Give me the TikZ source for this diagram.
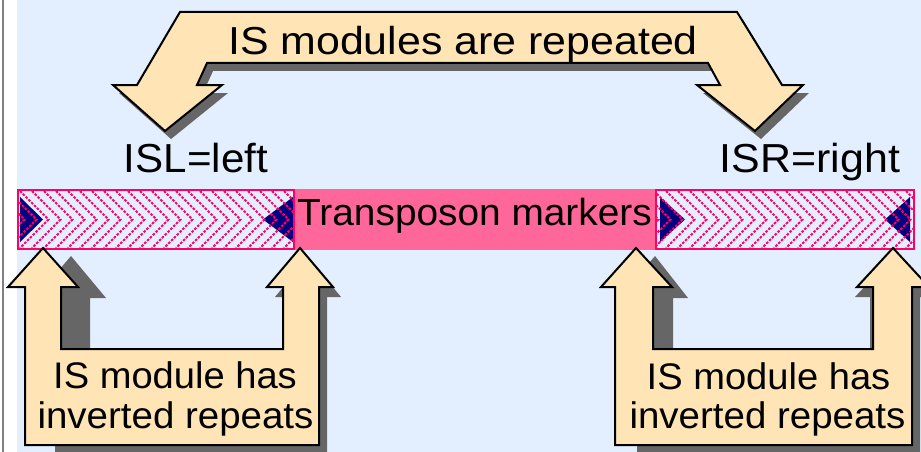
\documentclass[tikz,border=0pt]{standalone}
\usepackage{fontspec}
\setmainfont{Liberation Sans}
\usepackage{graphicx}
\definecolor{bgblue}{RGB}{227,239,255}
\definecolor{beige}{RGB}{255,228,181}
\definecolor{midpink}{RGB}{255,102,153}
\definecolor{hotpink}{RGB}{255,0,102}
\definecolor{navyblue}{RGB}{0,0,128}
\definecolor{shadowgray}{RGB}{102,102,102}
\definecolor{framegray}{RGB}{128,128,128}
\newcommand\myfs[1]{\fontsize{#1}{#1}\selectfont}
\newcommand\toparrowpath[1]{\path[#1] (180,12) -- (737,12) -- (782,85) -- (803,85) -- (755,131) -- (697,85) -- (720,85) -- (708,63) -- (207,63) -- (197,85) -- (222,85) -- (165,131) -- (113,85) -- (137,85) -- cycle;}
\newcommand\leftUpath[1]{\path[#1] (43,248) -- (78,287) -- (61,287) -- (61,349) -- (283,349) -- (283,287) -- (267,287) -- (300,248) -- (333,287) -- (319,287) -- (319,445) -- (25,445) -- (25,287) -- (8,287) -- cycle;}
\newcommand\rightUpath[1]{\path[#1] (636,248) -- (672,287) -- (653,287) -- (653,349) -- (873,349) -- (873,287) -- (857,287) -- (893,248) -- (929,287) -- (912,287) -- (912,445) -- (615,445) -- (615,287) -- (601,287) -- cycle;}
\tikzset{
  outline/.style={fill=beige, draw=black, line width=2pt},
  shade/.style={fill=shadowgray},
  hatch/.style={draw=hotpink, line width=2.1pt, dash pattern=on 2.5pt off 1.5pt},
  segborder/.style={draw=hotpink, line width=2.2pt},
  txt/.style={inner sep=0pt, anchor=base, text=black}
}
\begin{document}
\begin{tikzpicture}[x=1pt,y=-1pt]
\useasboundingbox (0,0) rectangle (921,452);
\clip (0,0) rectangle (921,452);
\fill[white] (0,0) rectangle (921,452);
\fill[framegray] (1.5,0) rectangle (4,452);
\fill[bgblue] (17,0) rectangle (921,452);

% top arrow
\toparrowpath{shade, shift={(6,8)}}
\toparrowpath{outline}
\node[txt, font=\myfs{39}] (title) at (463,55) {\scalebox{1.1}[1]{IS modules are repeated}};
\node[txt, font=\myfs{40.5}] (isl) at (196,172) {\scalebox{1.04}[1]{ISL=left}};
\node[txt, font=\myfs{40.5}] (isr) at (810,172) {\scalebox{1.06}[1]{ISR=right}};

% bar: left IS segment
\begin{scope}
  \clip (19,191) rectangle (293,248);
  \fill[bgblue] (19,191) rectangle (293,248);
  \fill[navyblue] (20,197) -- (43,219.5) -- (20,242) -- cycle;
  \fill[navyblue] (293,197) -- (263,219.5) -- (293,242) -- cycle;
  \foreach \x in {-16,-4,...,296} \draw[hatch] (\x,191) -- ++(28.5,28.5) -- ++(-28.5,28.5);
\end{scope}
\draw[segborder] (18,190) rectangle (294,249);
% middle
\fill[midpink] (295,189) rectangle (655,250);
\node[txt, font=\myfs{37.7}] (tm) at (474.5,225) {\scalebox{1.03}[1]{Transposon markers}};
% right IS segment
\begin{scope}
  \clip (657,191) rectangle (913,248);
  \fill[bgblue] (657,191) rectangle (913,248);
  \fill[navyblue] (660,197) -- (685,219.5) -- (660,242) -- cycle;
  \fill[navyblue] (910,197) -- (885,219.5) -- (910,242) -- cycle;
  \foreach \x in {630,642,...,920} \draw[hatch] (\x,191) -- ++(28.5,28.5) -- ++(-28.5,28.5);
\end{scope}
\draw[segborder] (656,190) rectangle (914,249);

% left U arrow
\path[shade] (71,256) -- (106,298) -- (90,298) -- (90,358) -- (291,358) -- (291,297) -- (275,297) -- (308,257) -- (341,297) -- (327,297) -- (327,454) -- (55,454) -- (55,297) -- (36,297) -- cycle;
\leftUpath{outline}
\node[txt, font=\myfs{37}] (l1) at (175,388) {\scalebox{1.03}[1]{IS module has}};
\node[txt, font=\myfs{37}] (l2) at (175.5,428) {\scalebox{1.04}[1]{inverted repeats}};

% right U arrow
\path[shade] (655,256) -- (688,298) -- (673,298) -- (673,358) -- (870,358) -- (870,297) -- (855,297) -- (893,256) -- (930,297) -- (920,297) -- (920,454) -- (637,454) -- (637,297) -- (620,297) -- cycle;
\rightUpath{outline}
\node[txt, font=\myfs{37}] (r1) at (768.5,389) {\scalebox{1.03}[1]{IS module has}};
\node[txt, font=\myfs{37}] (r2) at (767.5,428) {\scalebox{1.04}[1]{inverted repeats}};
\end{tikzpicture}
\end{document}
